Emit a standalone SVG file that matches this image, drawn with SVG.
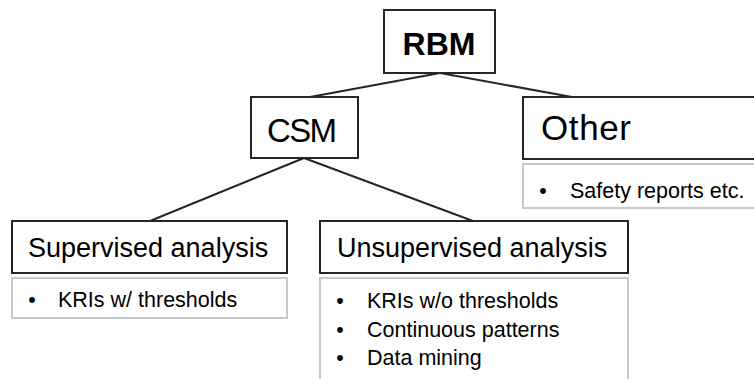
<svg xmlns="http://www.w3.org/2000/svg" width="754" height="379" viewBox="0 0 754 379">
  <style>
    .box { fill: #ffffff; stroke: #262626; stroke-width: 2; }
    .list { fill: #ffffff; stroke: #c8c8c8; stroke-width: 2; }
    .link { stroke: #262626; stroke-width: 2; fill: none; }
    text { font-family: "Liberation Sans", Arial, sans-serif; fill: #000000; }
    .big { font-size: 33px; }
    .title { font-size: 27px; }
    .item { font-size: 21.5px; }
    .dot { font-size: 21.5px; text-anchor: middle; }
  </style>
  <rect width="754" height="379" fill="#ffffff"/>

  <!-- tree links, drawn under the boxes -->
  <g id="connectors">
    <line class="link" x1="440" y1="73" x2="310" y2="97"/>
    <line class="link" x1="440" y1="73" x2="572" y2="97"/>
    <line class="link" x1="304" y1="158" x2="150" y2="221"/>
    <line class="link" x1="304" y1="158" x2="473" y2="221"/>
  </g>

  <g id="rbm">
    <rect class="box" x="384" y="10" width="111" height="63"/>
    <text x="439" y="55" text-anchor="middle" font-size="32" font-weight="bold">RBM</text>
  </g>

  <g id="csm">
    <rect class="box" x="251" y="97" width="107" height="61"/>
    <text class="big" x="267" y="142" textLength="70">CSM</text>
  </g>

  <g id="other">
    <rect class="box" x="523" y="97" width="240" height="62"/>
    <text x="541" y="140" font-size="35" textLength="90">Other</text>
    <rect class="list" x="523" y="164" width="240" height="44"/>
    <text class="dot" x="543" y="198">•</text>
    <text class="item" x="570" y="198">Safety reports etc.</text>
  </g>

  <g id="supervised">
    <rect class="box" x="12" y="221" width="275" height="52"/>
    <text class="title" x="28" y="257">Supervised analysis</text>
    <rect class="list" x="12" y="278" width="275" height="40"/>
    <text class="dot" x="32" y="307">•</text>
    <text class="item" x="58" y="307">KRIs w/ thresholds</text>
  </g>

  <g id="unsupervised">
    <rect class="box" x="320" y="221" width="308" height="52"/>
    <text class="title" x="337" y="257">Unsupervised analysis</text>
    <rect class="list" x="320" y="278" width="308" height="130"/>
    <text class="dot" x="340" y="308">•</text>
    <text class="item" x="367" y="308">KRIs w/o thresholds</text>
    <text class="dot" x="340" y="337">•</text>
    <text class="item" x="367" y="337">Continuous patterns</text>
    <text class="dot" x="340" y="365">•</text>
    <text class="item" x="367" y="365">Data mining</text>
  </g>
</svg>
